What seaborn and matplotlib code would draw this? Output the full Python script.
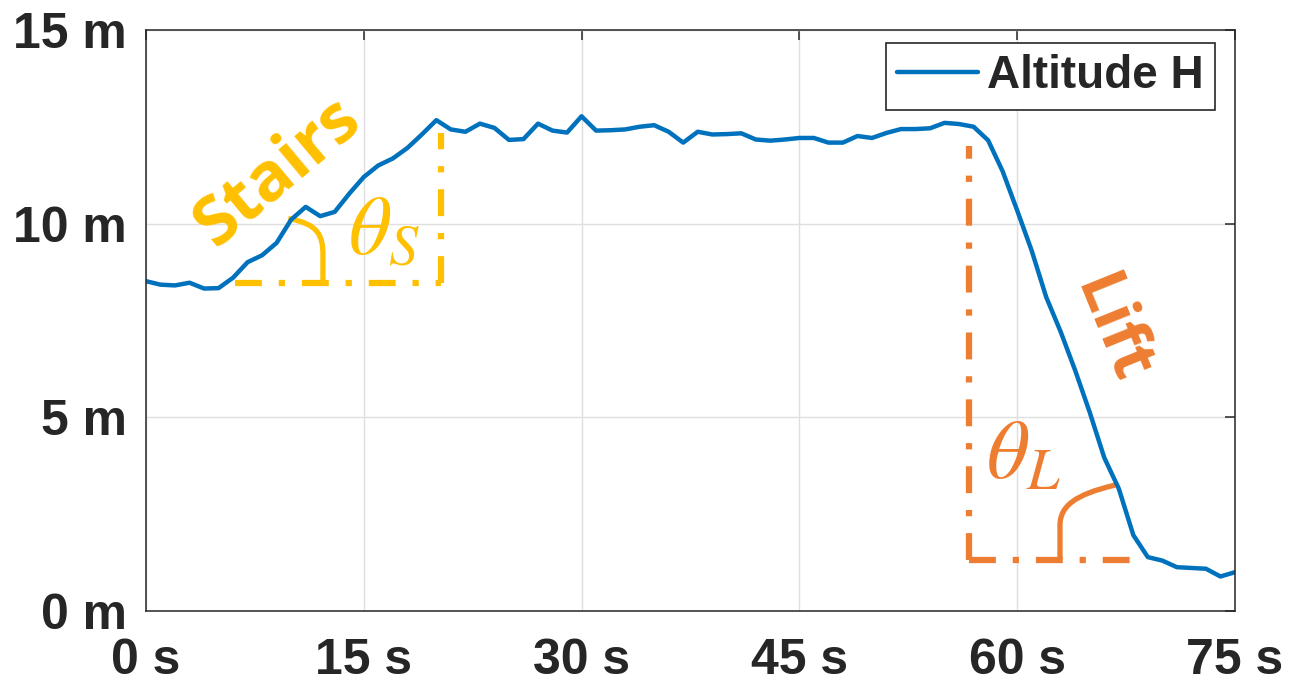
import matplotlib
matplotlib.use("Agg")
import matplotlib.pyplot as plt
from matplotlib.path import Path
from matplotlib.patches import PathPatch
import pandas as pd
import seaborn as sns

# === Data (one sample per second) ===
time_s = list(range(76))
altitude_m = [
    8.51, 8.42, 8.40, 8.47, 8.32, 8.33, 8.60, 9.00, 9.18, 9.50,
    10.10, 10.43, 10.19, 10.30, 10.77, 11.20, 11.50, 11.68, 11.95, 12.30,
    12.67, 12.43, 12.37, 12.58, 12.47, 12.16, 12.18, 12.58, 12.40, 12.35,
    12.77, 12.40, 12.41, 12.43, 12.50, 12.54, 12.37, 12.09, 12.37, 12.30,
    12.31, 12.33, 12.17, 12.14, 12.17, 12.21, 12.21, 12.09, 12.09, 12.26,
    12.21, 12.34, 12.44, 12.44, 12.46, 12.60, 12.57, 12.50, 12.15, 11.35,
    10.34, 9.30, 8.10, 7.20, 6.20, 5.12, 3.95, 3.15, 1.95, 1.38,
    1.29, 1.12, 1.10, 1.08, 0.88, 0.99,
]
x_ticks = [0, 15, 30, 45, 60, 75]
x_labels = ["0 s", "15 s", "30 s", "45 s", "60 s", "75 s"]
y_ticks = [0, 5, 10, 15]
y_labels = ["0 m", "5 m", "10 m", "15 m"]

# guide lines for the two slopes (s, m)
stairs_x = [6.1, 20.3]
stairs_base, stairs_top = 8.45, 12.33
lift_x = [56.7, 68.45]
lift_base, lift_top = 1.31, 12.0

BLUE = "#0072BD"
YELLOW = "#FFC000"
ORANGE = "#ED7D31"
DARK = "#262626"

sns.set_style("white")
plt.rcParams["font.family"] = ["Liberation Sans", "DejaVu Sans"]
plt.rcParams["mathtext.fontset"] = "stix"

fig = plt.figure(figsize=(13.02, 6.83), dpi=100)
ax = fig.add_axes([0.1121, 0.1061, 0.8364, 0.85])

df = pd.DataFrame({"t": time_s, "H": altitude_m})
sns.lineplot(data=df, x="t", y="H", ax=ax, color=BLUE, lw=3.2, label="Altitude H")

ax.set_xlim(0, 75)
ax.set_ylim(0, 15)
ax.set_xticks(x_ticks)
ax.set_xticklabels(x_labels)
ax.set_yticks(y_ticks)
ax.set_yticklabels(y_labels)
ax.set_xlabel("")
ax.set_ylabel("")
ax.grid(True, color="#DFDFDF", lw=1.0)
ax.tick_params(direction="in", length=7, width=1.1, color=DARK,
               top=True, right=True, labelsize=36, labelcolor=DARK)
ax.tick_params(axis="y", pad=14)
ax.tick_params(axis="x", pad=20)
for lab in ax.get_xticklabels() + ax.get_yticklabels():
    lab.set_fontweight("bold")
for sp in ax.spines.values():
    sp.set_color(DARK)
    sp.set_linewidth(1.1)

leg = ax.legend(loc="upper right", bbox_to_anchor=(0.9816, 0.9776), borderaxespad=0,
                fontsize=33, handlelength=1.75, handletextpad=0.2, borderpad=0.25,
                fancybox=False, framealpha=1, edgecolor=DARK)
for txt in leg.get_texts():
    txt.set_fontweight("bold")
leg.get_frame().set_linewidth(1.2)

# dash-dot guide lines
dd = dict(lw=4.5, dashes=(4.3, 2.7, 1.0, 2.7))
ax.plot(stairs_x, [stairs_base, stairs_base], color=YELLOW, **dd)
ax.plot([stairs_x[1], stairs_x[1]], [stairs_base, stairs_top], color=YELLOW, **dd)
ax.plot(lift_x, [lift_base, lift_base], color=ORANGE, **dd)
ax.plot([lift_x[0], lift_x[0]], [lift_base, lift_top], color=ORANGE, **dd)

# angle marks
def angle_mark(pts, color):
    codes = [Path.MOVETO, Path.CURVE4, Path.CURVE4, Path.CURVE4, Path.LINETO]
    ax.add_patch(PathPatch(Path(pts, codes), fill=False, ec=color, lw=3.8,
                           capstyle="butt"))

angle_mark([(9.80, 10.13), (11.85, 9.99), (12.19, 9.70), (12.19, 9.18), (12.19, 8.46)], YELLOW)
angle_mark([(66.74, 3.24), (64.0, 3.0), (62.95, 2.7), (62.95, 2.2), (62.95, 1.33)], ORANGE)

ax.text(16.4, 9.78, r"$\theta_S$", color=YELLOW, fontsize=60, ha="center", va="center")
ax.text(60.4, 3.97, r"$\theta_L$", color=ORANGE, fontsize=60, ha="center", va="center")

ax.text(9.09, 11.33, "Stairs", rotation=40, rotation_mode="anchor", ha="center",
        va="center", fontsize=49, fontweight="bold", color=YELLOW, family="Open Sans")
ax.text(66.46, 7.25, "Lift", rotation=-68, rotation_mode="anchor", ha="center",
        va="center", fontsize=47, fontweight="bold", color=ORANGE, family="Open Sans")

fig.savefig("out.png", dpi=100)
